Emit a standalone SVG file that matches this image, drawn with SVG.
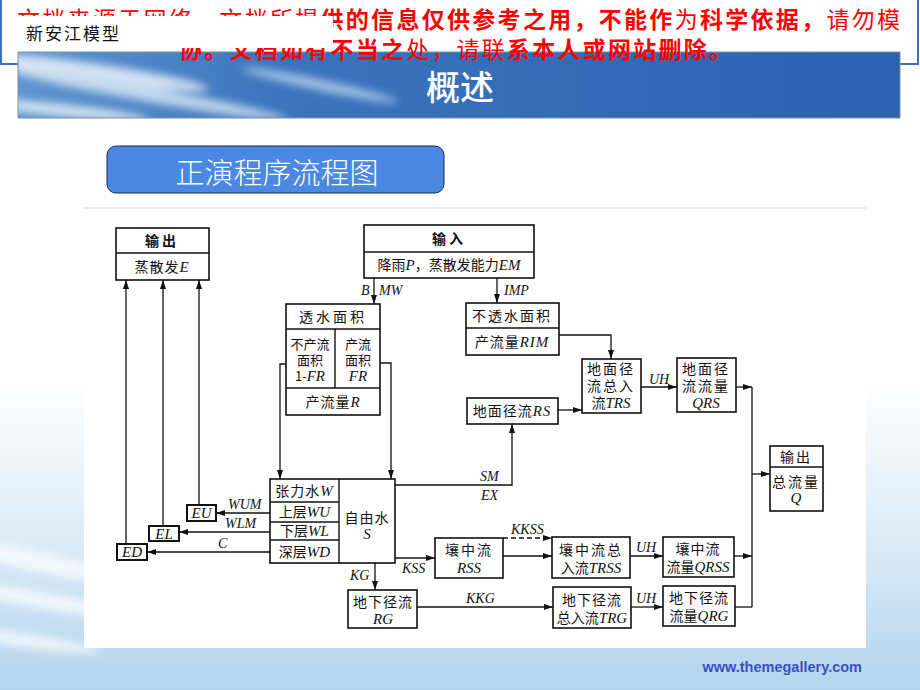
<svg xmlns="http://www.w3.org/2000/svg" width="920" height="690" viewBox="0 0 920 690">
<defs>
<style>
.box{fill:#fff;stroke:#111;stroke-width:1.6}
.sm{fill:#fff;stroke:#111;stroke-width:2}
.dv{stroke:#111;stroke-width:1.4;fill:none}
.c{fill:none;stroke:#111;stroke-width:1.3}
.t{font-family:"Noto Sans CJK SC","Noto Sans",sans-serif;font-size:14px;fill:#111;text-anchor:middle}
.t13{font-size:13px}
.v{font-family:"Liberation Serif",serif;font-style:italic;font-size:15px}
.lab{font-family:"Liberation Serif",serif;font-style:italic;font-size:14px;fill:#111}
.red{font-family:"Noto Sans CJK SC",sans-serif;font-size:23px;fill:#f00}
.bd{font-weight:bold}
</style>
<marker id="ah" markerUnits="userSpaceOnUse" markerWidth="9" markerHeight="6" refX="9" refY="3" orient="auto">
<path d="M0,0 L9,3 L0,6 z" fill="#111"/>
</marker>
<linearGradient id="bg" x1="0" y1="0" x2="0" y2="1">
<stop offset="0" stop-color="#ffffff"/>
<stop offset="0.55" stop-color="#ffffff"/>
<stop offset="0.78" stop-color="#dcebf7"/>
<stop offset="1" stop-color="#b3d4ee"/>
</linearGradient>
<linearGradient id="ban" x1="0" y1="0" x2="1" y2="0">
<stop offset="0" stop-color="#5f95d0"/>
<stop offset="0.3" stop-color="#3b74bd"/>
<stop offset="1" stop-color="#2a62ae"/>
</linearGradient>
<filter id="blur" x="-50%" y="-50%" width="200%" height="200%"><feGaussianBlur stdDeviation="4"/></filter>
<clipPath id="banclip"><rect x="18" y="52" width="882" height="66"/></clipPath>
</defs>

<rect x="0" y="0" width="920" height="690" fill="url(#bg)"/>
<g filter="url(#blur)" opacity="0.7">
<ellipse cx="30" cy="560" rx="90" ry="10" fill="#fff" transform="rotate(12 30 560)"/>
<ellipse cx="40" cy="600" rx="110" ry="8" fill="#fff" transform="rotate(10 40 600)"/>
<ellipse cx="20" cy="640" rx="80" ry="7" fill="#fff" transform="rotate(8 20 640)"/>
</g>

<g id="header">
<rect x="1" y="-2" width="917" height="66" fill="#fff" stroke="#3d6fc0" stroke-width="2"/>
<g clip-path="url(#banclip)">
<rect x="18" y="52" width="882" height="66" fill="url(#ban)"/>
<g filter="url(#blur)" opacity="0.75">
<ellipse cx="90" cy="72" rx="120" ry="9" fill="#fff" transform="rotate(8 90 72)"/>
<ellipse cx="150" cy="95" rx="140" ry="7" fill="#e8f2fb" transform="rotate(10 150 95)"/>
<ellipse cx="60" cy="110" rx="90" ry="6" fill="#fff" transform="rotate(6 60 110)"/>
<ellipse cx="320" cy="85" rx="80" ry="5" fill="#cfe2f5" transform="rotate(12 320 85)"/>
</g>
</g>
<rect x="18" y="52" width="882" height="66" fill="none" stroke="#7f8fa0" stroke-width="1"/>
<text x="460" y="100" font-family="Noto Sans CJK SC,sans-serif" font-size="34" font-weight="500" fill="#fff" text-anchor="middle">概述</text>
<text class="red" x="17" y="28" textLength="883" lengthAdjust="spacing">文档来源于网络，文档所提<tspan class="bd">供的信息仅供参考之用，不能作</tspan>为<tspan class="bd">科学依据，</tspan>请勿模</text>
<text class="red" x="179" y="58" textLength="553" lengthAdjust="spacing"><tspan class="bd">协。文档如有不当之</tspan>处，请联<tspan class="bd">系本人或网站删除。</tspan></text>
<rect x="3" y="16" width="330" height="32" fill="#fff"/>
<text x="26" y="40" font-family="Noto Sans CJK SC,sans-serif" font-size="17" fill="#111" letter-spacing="2">新安江模型</text>
</g>

<g id="subtitle">
<rect x="107" y="146" width="337" height="47" rx="9" fill="#4a88e2" stroke="#1a2a50" stroke-width="1"/>
<text x="277" y="184" font-family="Noto Sans CJK SC,sans-serif" font-size="29" font-weight="300" fill="#fff" text-anchor="middle">正演程序流程图</text>
</g>

<g id="panel">
<rect x="84" y="208" width="782" height="440" fill="#fff"/>
<line x1="84" y1="208" x2="866" y2="208" stroke="#e4e4e4" stroke-width="1.5"/>
</g>

<g id="connectors">
<path class="c" d="M126,544 V280" marker-end="url(#ah)"/>
<path class="c" d="M163,526 V280" marker-end="url(#ah)"/>
<path class="c" d="M199,505 V280" marker-end="url(#ah)"/>
<path class="c" d="M270,513 H216" marker-end="url(#ah)"/>
<path class="c" d="M270,532 H179" marker-end="url(#ah)"/>
<path class="c" d="M270,552 H147" marker-end="url(#ah)"/>
<path class="c" d="M374,278 V304" marker-end="url(#ah)"/>
<path class="c" d="M497,278 V303" marker-end="url(#ah)"/>
<path class="c" d="M286,364 H280 V479" marker-end="url(#ah)"/>
<path class="c" d="M380,363 H391 V479" marker-end="url(#ah)"/>
<path class="c" d="M559,335 H611 V359" marker-end="url(#ah)"/>
<path class="c" d="M558,410 H582" marker-end="url(#ah)"/>
<path class="c" d="M395,485 H512 V424" marker-end="url(#ah)"/>
<path class="c" d="M641,387 H677" marker-end="url(#ah)"/>
<path class="c" d="M736,387 H752" marker-end="url(#ah)"/>
<path class="c" d="M752,387 V607"/>
<path class="c" d="M752,474 H770" marker-end="url(#ah)"/>
<path class="c" d="M375,563 V590" marker-end="url(#ah)"/>
<path class="c" d="M395,558 H435" marker-end="url(#ah)"/>
<path class="c" d="M503,538 H552" stroke-dasharray="5,3" marker-end="url(#ah)"/>
<path class="c" d="M503,556 H552" marker-end="url(#ah)"/>
<path class="c" d="M630,556 H663" marker-end="url(#ah)"/>
<path class="c" d="M734,556 H752" marker-end="url(#ah)"/>
<path class="c" d="M417,607 H553" marker-end="url(#ah)"/>
<path class="c" d="M631,607 H663" marker-end="url(#ah)"/>
<path class="c" d="M735,607 H752"/>
<text class="lab" x="361" y="295">B</text>
<text class="lab" x="379" y="295">MW</text>
<text class="lab" x="504" y="295">IMP</text>
<text class="lab" x="480" y="481">SM</text>
<text class="lab" x="481" y="500">EX</text>
<text class="lab" x="649" y="384">UH</text>
<text class="lab" x="228" y="509">WUM</text>
<text class="lab" x="225" y="528">WLM</text>
<text class="lab" x="218" y="548">C</text>
<text class="lab" x="350" y="580">KG</text>
<text class="lab" x="402" y="573">KSS</text>
<text class="lab" x="511" y="534">KKSS</text>
<text class="lab" x="636" y="552">UH</text>
<text class="lab" x="466" y="603">KKG</text>
<text class="lab" x="636" y="603">UH</text>
</g>

<g id="out_E">
<rect class="box" x="116" y="228" width="93" height="52"/>
<line class="dv" x1="116" y1="253" x2="209" y2="253"/>
<text class="t" x="162" y="245.5" font-weight="bold" letter-spacing="3">输出</text>
<text class="t" x="162" y="271.5" letter-spacing="1">蒸散发<tspan class="v">E</tspan></text>
</g>

<g id="input">
<rect class="box" x="364" y="225" width="170" height="53"/>
<line class="dv" x1="364" y1="252" x2="534" y2="252"/>
<text class="t" x="449" y="243.5" font-weight="bold" letter-spacing="3">输入</text>
<text class="t" x="449" y="270" font-size="15">降雨<tspan class="v">P</tspan>，蒸散发能力<tspan class="v">EM</tspan></text>
</g>

<g id="permeable">
<rect class="box" x="286" y="304" width="94" height="111"/>
<line class="dv" x1="286" y1="329" x2="380" y2="329"/>
<line class="dv" x1="286" y1="388" x2="380" y2="388"/>
<line class="dv" x1="335" y1="329" x2="335" y2="388"/>
<text class="t" x="333" y="321.5" letter-spacing="3">透水面积</text>
<text class="t t13" x="310" y="349">不产流</text>
<text class="t t13" x="310" y="365">面积</text>
<text class="t t13" x="310" y="381">1-<tspan class="v" font-size="14">FR</tspan></text>
<text class="t t13" x="358" y="349">产流</text>
<text class="t t13" x="358" y="365">面积</text>
<text class="t t13" x="358" y="381"><tspan class="v" font-size="14">FR</tspan></text>
<text class="t" x="333" y="407" letter-spacing="1">产流量<tspan class="v">R</tspan></text>
</g>

<g id="impermeable">
<rect class="box" x="466" y="303" width="93" height="52"/>
<line class="dv" x1="466" y1="328" x2="559" y2="328"/>
<text class="t" x="512" y="321" letter-spacing="2">不透水面积</text>
<text class="t" x="512" y="347" letter-spacing="1">产流量<tspan class="v">RIM</tspan></text>
</g>

<g id="RS">
<rect class="box" x="467" y="398" width="91" height="26"/>
<text class="t" x="512" y="416" letter-spacing="1">地面径流<tspan class="v">RS</tspan></text>
</g>

<g id="TRS">
<rect class="box" x="582" y="359" width="59" height="54"/>
<text class="t" x="611" y="374" letter-spacing="2">地面径</text>
<text class="t" x="611" y="391" letter-spacing="2">流总入</text>
<text class="t" x="611" y="408">流<tspan class="v">TRS</tspan></text>
</g>

<g id="QRS">
<rect class="box" x="677" y="358" width="59" height="54"/>
<text class="t" x="706" y="374" letter-spacing="2">地面径</text>
<text class="t" x="706" y="391" letter-spacing="2">流流量</text>
<text class="t" x="706" y="408"><tspan class="v">QRS</tspan></text>
</g>

<g id="out_Q">
<rect class="box" x="770" y="446" width="53" height="65"/>
<line class="dv" x1="770" y1="467" x2="823" y2="467"/>
<text class="t" x="796" y="461.5" letter-spacing="2">输出</text>
<text class="t" x="796" y="487" letter-spacing="2">总流量</text>
<text class="t" x="796" y="503"><tspan class="v">Q</tspan></text>
</g>

<g id="soil">
<rect class="box" x="270" y="479" width="125" height="84"/>
<line class="dv" x1="339" y1="479" x2="339" y2="563"/>
<line class="dv" x1="270" y1="502" x2="339" y2="502"/>
<line class="dv" x1="270" y1="522" x2="339" y2="522"/>
<line class="dv" x1="270" y1="540" x2="339" y2="540"/>
<text class="t" x="304.5" y="496" letter-spacing="1">张力水<tspan class="v">W</tspan></text>
<text class="t" x="304.5" y="517">上层<tspan class="v">WU</tspan></text>
<text class="t" x="304.5" y="536">下层<tspan class="v">WL</tspan></text>
<text class="t" x="304.5" y="557">深层<tspan class="v">WD</tspan></text>
<text class="t" x="367" y="523" letter-spacing="1">自由水</text>
<text class="t" x="367" y="539"><tspan class="v">S</tspan></text>
</g>

<g id="EU">
<rect class="sm" x="187" y="505" width="29" height="16"/>
<text class="t" x="201.5" y="518"><tspan class="v">EU</tspan></text>
</g>
<g id="EL">
<rect class="sm" x="149" y="526" width="30" height="15"/>
<text class="t" x="164" y="538.5"><tspan class="v">EL</tspan></text>
</g>
<g id="ED">
<rect class="sm" x="117" y="544" width="30" height="16"/>
<text class="t" x="132" y="557"><tspan class="v">ED</tspan></text>
</g>

<g id="RG">
<rect class="box" x="348" y="590" width="69" height="38"/>
<text class="t" x="383" y="607" letter-spacing="1">地下径流</text>
<text class="t" x="383" y="624"><tspan class="v">RG</tspan></text>
</g>

<g id="RSS">
<rect class="box" x="435" y="538" width="68" height="40"/>
<text class="t" x="469" y="555" letter-spacing="2">壤中流</text>
<text class="t" x="469" y="573"><tspan class="v">RSS</tspan></text>
</g>

<g id="TRSS">
<rect class="box" x="552" y="537" width="78" height="41"/>
<text class="t" x="591" y="555" letter-spacing="2">壤中流总</text>
<text class="t" x="591" y="573">入流<tspan class="v">TRSS</tspan></text>
</g>

<g id="QRSS">
<rect class="box" x="663" y="537" width="71" height="40"/>
<text class="t" x="698" y="554" letter-spacing="1">壤中流</text>
<text class="t" x="698" y="572">流量<tspan class="v">QRSS</tspan></text>
</g>

<g id="TRG">
<rect class="box" x="553" y="587" width="78" height="41"/>
<text class="t" x="592" y="605" letter-spacing="1">地下径流</text>
<text class="t" x="592" y="623">总入流<tspan class="v">TRG</tspan></text>
</g>

<g id="QRG">
<rect class="box" x="663" y="586" width="72" height="40"/>
<text class="t" x="699" y="603" letter-spacing="1">地下径流</text>
<text class="t" x="699" y="621">流量<tspan class="v">QRG</tspan></text>
</g>

<text x="862" y="672" font-family="Liberation Sans,Arial,sans-serif" font-size="14.5" font-weight="bold" fill="#3a50be" text-anchor="end">www.themegallery.com</text>
</svg>
